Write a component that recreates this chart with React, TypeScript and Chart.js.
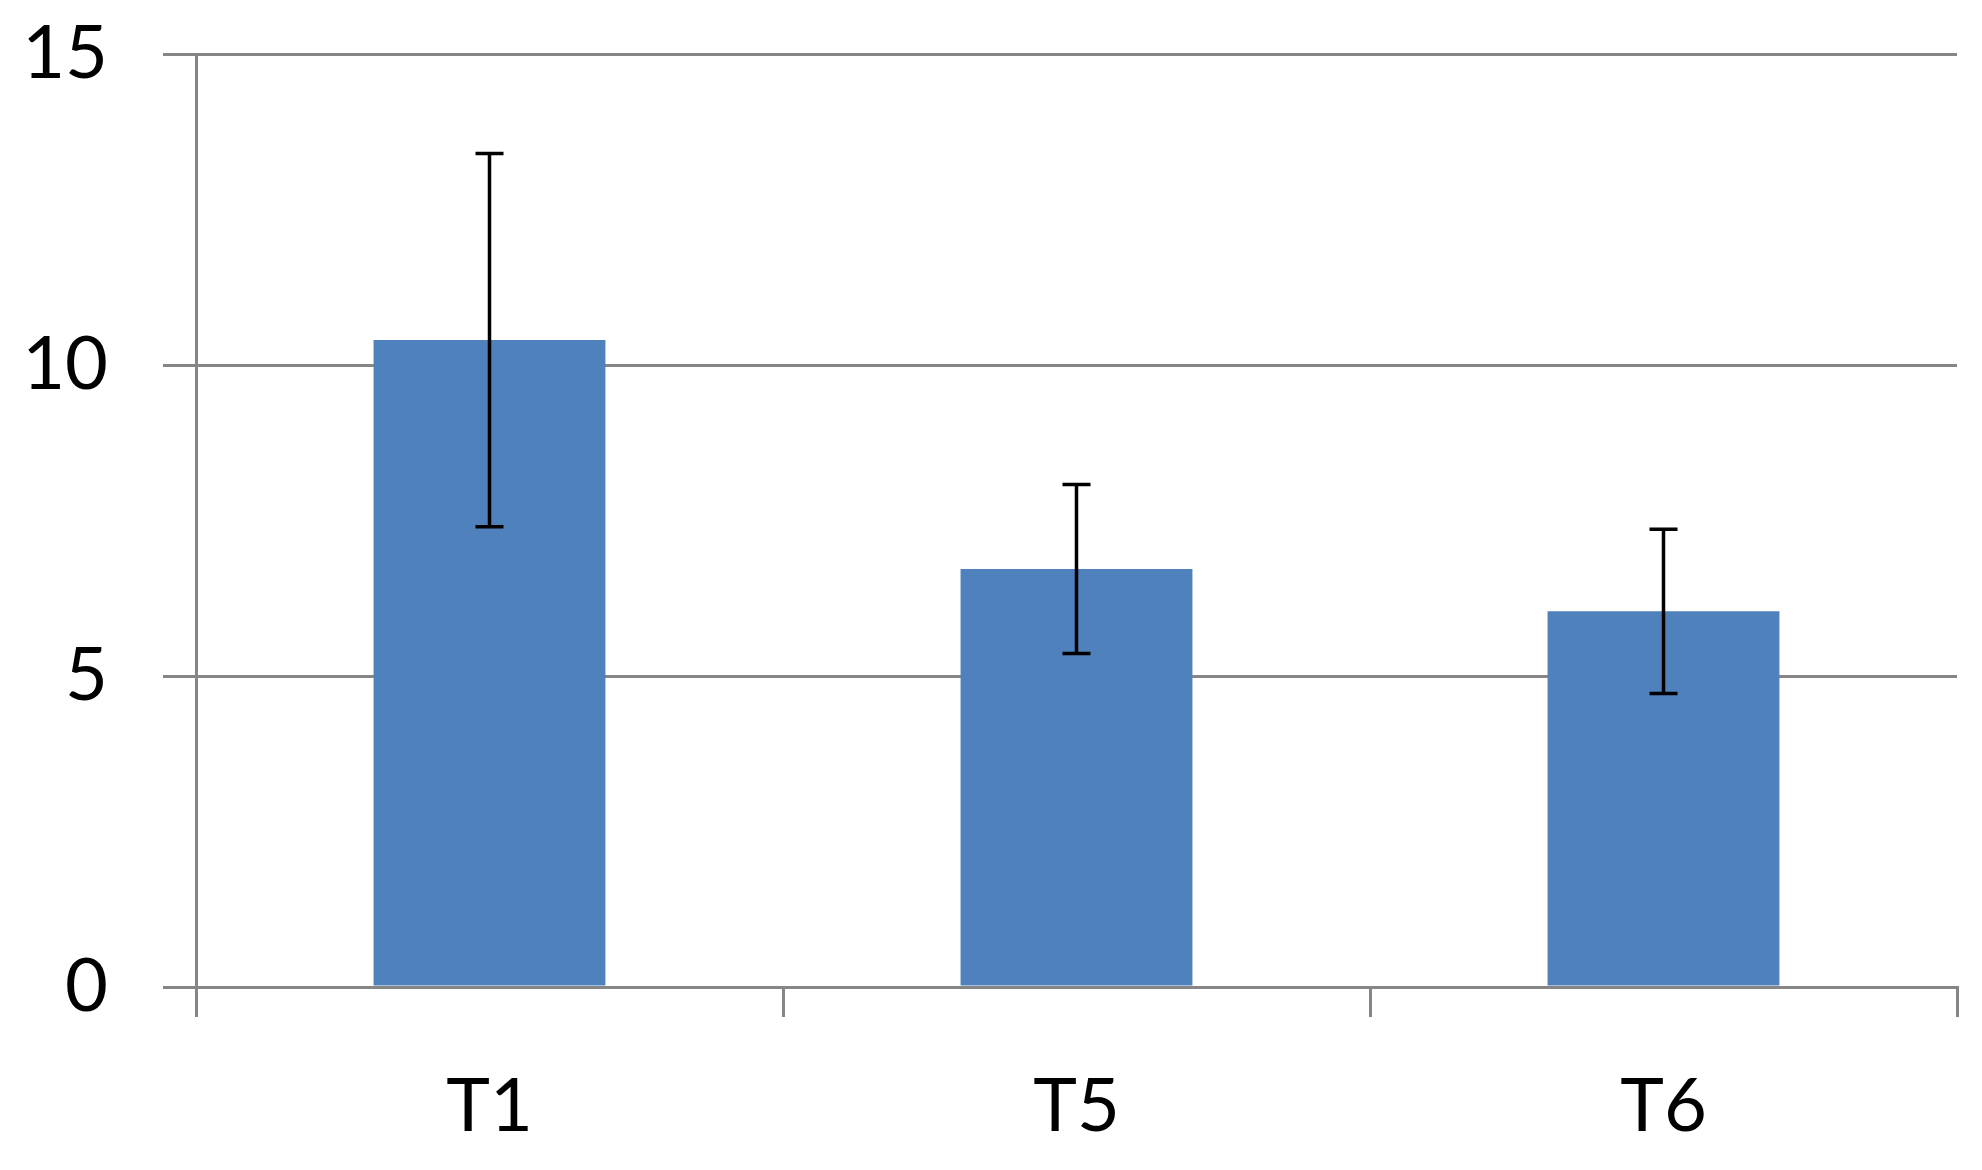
import React, { useEffect, useRef } from "react";
import { Chart, registerables } from "chart.js";

Chart.register(...registerables);

const categories = ["T1", "T5", "T6"];
const means = [10.4, 6.72, 6.04];
const errors = [3.0, 1.36, 1.32];
const yTicks = [0, 5, 10, 15];

const errorBarPlugin = {
  id: "errorBars",
  afterDatasetsDraw(chart: any) {
    const ctx = chart.ctx;
    const meta = chart.getDatasetMeta(0);
    const y = chart.scales.y;
    ctx.save();
    ctx.strokeStyle = "#000000";
    ctx.lineWidth = 3.5;
    meta.data.forEach((bar: any, i: number) => {
      const x = bar.x;
      const top = y.getPixelForValue(means[i] + errors[i]);
      const bot = y.getPixelForValue(means[i] - errors[i]);
      const cap = 14;
      ctx.beginPath();
      ctx.moveTo(x, top);
      ctx.lineTo(x, bot);
      ctx.moveTo(x - cap, top);
      ctx.lineTo(x + cap, top);
      ctx.moveTo(x - cap, bot);
      ctx.lineTo(x + cap, bot);
      ctx.stroke();
    });
    ctx.restore();
  },
};

export default function App() {
  const ref = useRef<HTMLCanvasElement>(null);
  useEffect(() => {
    if (!ref.current) return;
    const chart = new Chart(ref.current, {
      type: "bar",
      data: {
        labels: categories,
        datasets: [
          {
            data: means,
            backgroundColor: "#4F81BD",
            borderWidth: 0,
            barPercentage: 0.395,
            categoryPercentage: 1,
          },
        ],
      },
      options: {
        animation: false,
        responsive: false,
        maintainAspectRatio: false,
        layout: { padding: { top: 54, right: 25, left: 0, bottom: 0 } },
        plugins: { legend: { display: false }, tooltip: { enabled: false } },
        scales: {
          x: {
            offset: true,
            grid: {
              offset: true,
              drawOnChartArea: false,
              drawTicks: true,
              tickLength: 30,
              color: "#868686",
              lineWidth: 3,
            },
            border: { display: true, color: "#868686", width: 3 },
            ticks: {
              color: "#000000",
              font: { family: "Lato", size: 74 },
              padding: 46,
            },
            afterFit(scale: any) {
              scale.height = 183;
              scale.paddingLeft = 0;
              scale.paddingRight = 0;
            },
          },
          y: {
            min: 0,
            max: 15,
            afterBuildTicks(scale: any) {
              scale.ticks = yTicks.map((v) => ({ value: v }));
            },
            grid: {
              color: "#868686",
              lineWidth: 3,
              drawTicks: true,
              tickLength: 33,
            },
            border: { display: true, color: "#868686", width: 3 },
            ticks: {
              color: "#000000",
              font: { family: "Lato", size: 74 },
              padding: 55,
            },
            afterFit(scale: any) {
              scale.width = 196;
              scale.paddingTop = 0;
              scale.paddingBottom = 0;
            },
          },
        },
      },
      plugins: [errorBarPlugin],
    });
    return () => chart.destroy();
  }, []);
  return (
    <div style={{ position: "fixed", left: 0, top: 0, width: 1982, height: 1170, background: "#fff" }}>
      <canvas ref={ref} width={1982} height={1170} style={{ width: 1982, height: 1170 }} />
    </div>
  );
}
